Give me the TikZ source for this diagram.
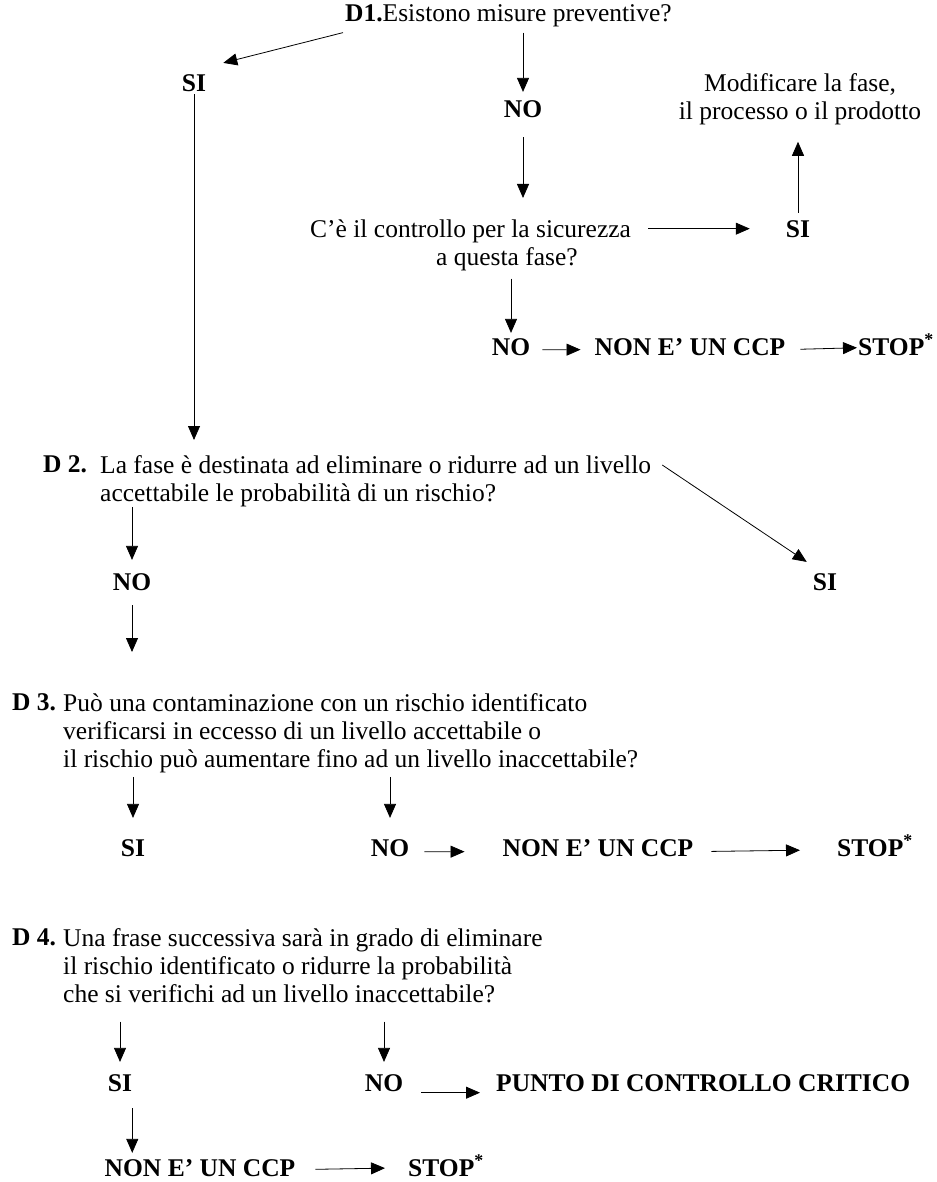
\documentclass[tikz,border=0pt]{standalone}
\usepackage{fontspec}
\setmainfont{Liberation Serif}
\usetikzlibrary{arrows.meta}

\begin{document}
\begin{tikzpicture}[x=1pt, y=-1pt,
  every node/.style={font=\fontsize{25.5}{28}\selectfont, inner sep=0pt},
  ans/.style={font=\fontsize{25.5}{28}\selectfont\bfseries, anchor=base},
  lab/.style={font=\fontsize{25.5}{28}\selectfont\bfseries, anchor=base west},
  quest/.style={align=left, anchor=north west},
  arr/.style={-{Triangle[length=14pt,width=12pt]}, line width=0.8pt}]
\useasboundingbox (0,0) rectangle (936,1182);

% D1
\node[anchor=base west] (d1) at (345,22) {\textbf{D1.}Esistono misure preventive?};
\node[ans] (si1) at (194,92) {SI};
\node[ans] (no1) at (523,118) {NO};
\node[quest] (ctrl) at (310,220) {C’è il controllo per la sicurezza\\\hspace*{126pt}a questa fase?};
\node[ans] (si2) at (798,237) {SI};
\node[align=center, anchor=north] (mod) at (800,73) {Modificare la fase,\\il processo o il prodotto};
\node[ans] (no2) at (511,355) {NO};
\node[ans] (ncp1) at (690,355) {NON E’ UN CCP};
\node[ans, anchor=base west] (stop1) at (858,355) {STOP\textsuperscript{*}};
\draw[arr] ([xshift=-2pt,yshift=-5pt]d1.south west) -- ([xshift=17pt,yshift=12pt]si1.north east);
\draw[arr, shorten <=5pt, shorten >=9pt] (no1.north |- d1.south) -- (no1.north);
\draw[arr, shorten <=19pt, shorten >=22pt] (no1.south) -- (no1.south |- ctrl.north);
\draw[arr, shorten <=17pt, shorten >=36pt] (ctrl.east |- si2.west) -- (si2.west);
\draw[arr, shorten <=7pt, shorten >=17pt] (si2.north) -- (si2.north |- mod.south);
\draw[arr, shorten <=7pt, shorten >=5pt] (no2.north |- ctrl.south) -- (no2.north);
\draw[arr, shorten <=12pt, shorten >=14pt] ([yshift=-3pt]no2.east) -- ([yshift=-3pt]ncp1.west);
\draw[arr, shorten <=15pt, shorten >=1pt] ([yshift=-3pt]ncp1.east) -- ([yshift=-3pt]stop1.west);

% D2
\node[lab] (l2) at (43,472) {D 2.};
\node[quest] (d2) at (100,455) {La fase è destinata ad eliminare o ridurre ad un livello\\accettabile le probabilità di un rischio?};
\node[ans] (no3) at (132,590) {NO};
\node[ans] (si3) at (825,590) {SI};
\draw[arr, shorten <=2pt, shorten >=15pt] (si1.south) -- (si1.south |- d2.north);
\draw[arr] ([xshift=11pt,yshift=-10pt]d2.north east) -- ([xshift=-6pt,yshift=11pt]si3.north west);
\draw[arr, shorten >=13pt] (no3.north |- d2.south) -- (no3.north);

% D3
\node[lab] (l3) at (12,710) {D 3.};
\node[quest] (d3) at (63,693) {Può una contaminazione con un rischio identificato\\verificarsi in eccesso di un livello accettabile o\\il rischio può aumentare fino ad un livello inaccettabile?};
\node[ans] (si4) at (133,856) {SI};
\node[ans] (no4) at (390,856) {NO};
\node[ans] (ncp2) at (598,856) {NON E’ UN CCP};
\node[ans, anchor=base west] (stop2) at (837,856) {STOP\textsuperscript{*}};
\draw[arr, shorten <=15pt, shorten >=41pt] (no3.south) -- (no3.south |- d3.north);
\draw[arr, shorten <=4pt, shorten >=21pt] (si4.north |- d3.south) -- (si4.north);
\draw[arr, shorten <=4pt, shorten >=21pt] (no4.north |- d3.south) -- (no4.north);
\draw[arr, shorten <=15pt, shorten >=38pt] ([yshift=-4pt]no4.east) -- ([yshift=-4pt]ncp2.west);
\draw[arr, shorten <=18pt, shorten >=37pt] ([yshift=-4pt]ncp2.east) -- ([yshift=-4pt]stop2.west);

% D4
\node[lab] (l4) at (12,945) {D 4.};
\node[quest] (d4) at (63,928) {Una frase successiva sarà in grado di eliminare\\il rischio identificato o ridurre la probabilità\\che si verifichi ad un livello inaccettabile?};
\node[ans] (si5) at (120,1091) {SI};
\node[ans] (no5) at (384,1091) {NO};
\node[ans, anchor=base west] (pcc) at (496,1091) {PUNTO DI CONTROLLO CRITICO};
\node[ans] (ncp3) at (200,1176) {NON E’ UN CCP};
\node[ans, anchor=base west] (stop3) at (408,1176) {STOP\textsuperscript{*}};
\draw[arr, shorten <=19pt, shorten >=12pt] (si5.north |- d4.south) -- (si5.north);
\draw[arr, shorten <=19pt, shorten >=12pt] (no5.north |- d4.south) -- (no5.north);
\draw[arr, shorten <=18pt, shorten >=16pt] ([yshift=-10pt]no5.east) -- ([yshift=-10pt]pcc.west);
\draw[arr, shorten <=17pt, shorten >=6pt] (si5.south east) -- (si5.south east |- ncp3.north);
\draw[arr, shorten <=20pt, shorten >=23pt] ([yshift=-2pt]ncp3.east) -- ([yshift=-2pt]stop3.west);
\end{tikzpicture}
\end{document}
